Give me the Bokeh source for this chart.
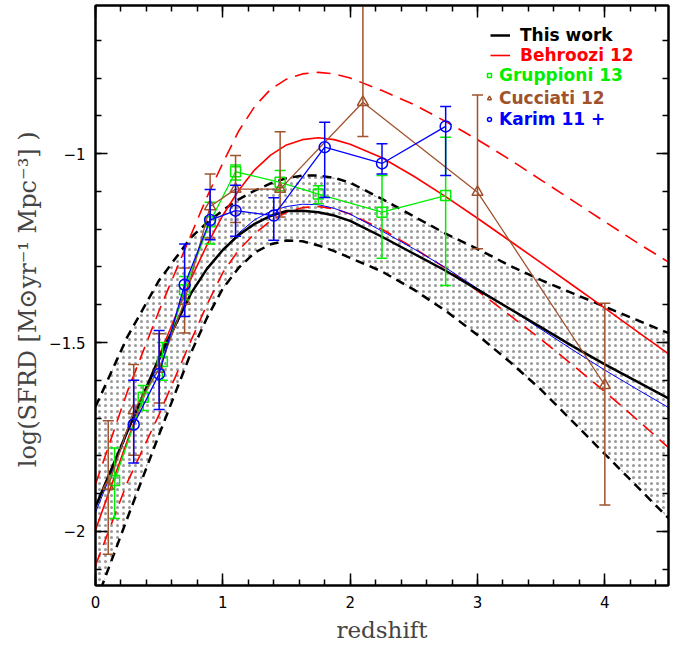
import numpy as np
from bokeh.plotting import figure
from bokeh.models import (Range1d, LinearAxis, FixedTicker, Legend, LegendItem)
from bokeh.embed import file_html
from bokeh.resources import INLINE

# ---------------- data ----------------
z_grid = [0.0, 0.25, 0.5, 0.75, 0.875, 1.0, 1.125, 1.25, 1.375, 1.5, 1.625, 1.75, 1.875,
          2.0, 2.25, 2.5, 2.75, 3.0, 3.25, 3.5, 3.75, 4.0, 4.25, 4.5]

this_work = [-1.935, -1.735, -1.54, -1.37, -1.305, -1.255, -1.215, -1.186, -1.165, -1.152,
             -1.151, -1.155, -1.164, -1.178, -1.22, -1.265, -1.31, -1.36, -1.41, -1.46,
             -1.51, -1.558, -1.603, -1.648]
this_work_hi = [-1.67, -1.485, -1.335, -1.222, -1.183, -1.15, -1.121, -1.098, -1.079, -1.065,
                -1.058, -1.058, -1.064, -1.077, -1.12, -1.166, -1.212, -1.252, -1.296, -1.335,
                -1.37, -1.405, -1.44, -1.475]
this_work_lo = [-2.19, -1.965, -1.743, -1.527, -1.435, -1.357, -1.302, -1.262, -1.24, -1.23,
                -1.232, -1.243, -1.258, -1.276, -1.312, -1.36, -1.416, -1.48, -1.55, -1.625,
                -1.71, -1.795, -1.88, -1.965]

behroozi = [-1.996, -1.76, -1.535, -1.331, -1.242, -1.163, -1.097, -1.043, -1.004, -0.977,
            -0.963, -0.958, -0.963, -0.975, -1.011, -1.06, -1.114, -1.171, -1.23, -1.289,
            -1.349, -1.409, -1.47, -1.53]
behroozi_hi = [-1.875, -1.63, -1.415, -1.215, -1.115, -1.025, -0.94, -0.875, -0.83, -0.803,
               -0.789, -0.785, -0.789, -0.80, -0.833, -0.87, -0.915, -0.963, -1.015, -1.07,
               -1.125, -1.18, -1.235, -1.287]
behroozi_lo = [-2.09, -1.87, -1.69, -1.495, -1.40, -1.315, -1.255, -1.212, -1.178, -1.155,
               -1.143, -1.14, -1.146, -1.16, -1.2, -1.25, -1.303, -1.363, -1.427, -1.492,
               -1.56, -1.63, -1.703, -1.778]

karim_fit = [-1.95, -1.74, -1.55, -1.37, -1.305, -1.255, -1.21, -1.175, -1.153, -1.14,
             -1.134, -1.135, -1.145, -1.16, -1.205, -1.252, -1.302, -1.357, -1.41, -1.465,
             -1.52, -1.573, -1.623, -1.672]

karim_z = [0.3, 0.5, 0.7, 0.9, 1.1, 1.4, 1.8, 2.25, 2.75]
karim_y = [-1.717, -1.583, -1.347, -1.176, -1.151, -1.164, -0.983, -1.026, -0.928]
karim_hi = [-1.60, -1.468, -1.239, -1.095, -1.084, -1.117, -0.917, -0.974, -0.875]
karim_lo = [-1.819, -1.677, -1.431, -1.228, -1.219, -1.229, -1.116, -1.054, -1.058]

grup_z = [0.15, 0.375, 0.525, 0.7, 0.9, 1.1, 1.45, 1.75, 2.25, 2.75]
grup_y = [-1.865, -1.645, -1.55, -1.36, -1.18, -1.048, -1.076, -1.107, -1.155, -1.111]
grup_hi = [-1.779, -1.614, -1.50, -1.325, -1.129, -1.03, -1.045, -1.085, -1.058, -0.957]
grup_lo = [-1.966, -1.68, -1.60, -1.387, -1.239, -1.07, -1.098, -1.133, -1.277, -1.349]

cucc_z = [0.1, 0.3, 0.5, 0.7, 0.9, 1.1, 1.45, 2.1, 3.0, 4.0]
cucc_y = [-1.88, -1.68, -1.57, -1.39, -1.14, -1.094, -1.094, -0.864, -1.102, -1.613]
cucc_hi = [-1.707, -1.558, -1.477, -1.303, -1.054, -1.005, -0.942, -0.50, -0.845, -1.396]
cucc_lo = [-2.06, -1.798, -1.66, -1.475, -1.223, -1.182, -1.168, -0.955, -1.252, -1.93]

x_ticks = [0, 1, 2, 3, 4]
y_ticks = [-2, -1.5, -1]
y_tick_labels = {-2: "\u22122", -1.5: "\u22121.5", -1: "\u22121"}

# ---------------- colours / layout ----------------
RED = "#ff0000"
GREEN = "#00ee00"
BROWN = "#a0522d"
BLUE = "#0000ff"

FRAME_W, FRAME_H = 573, 580
B_LEFT, B_RIGHT, B_TOP, B_BOTTOM = 95, 20, 5, 59

p = figure(frame_width=FRAME_W, frame_height=FRAME_H,
           x_range=Range1d(0, 4.5), y_range=Range1d(-2.143, -0.608),
           output_backend="svg", toolbar_location=None,
           min_border_left=B_LEFT, min_border_right=B_RIGHT,
           min_border_top=B_TOP, min_border_bottom=B_BOTTOM)
p.xgrid.visible = False
p.ygrid.visible = False
p.outline_line_color = "black"
p.outline_line_width = 2
p.background_fill_color = "white"
p.border_fill_color = "white"

x_minor = [round(v, 2) for v in np.arange(0.0, 4.51, 0.2)]
y_minor = [round(v, 2) for v in np.arange(-2.1, -0.6, 0.1)]

def style_axis(ax, labels=True):
    ax.axis_line_width = 2
    ax.axis_line_color = "black"
    ax.major_tick_in = 12
    ax.major_tick_out = 0
    ax.minor_tick_in = 6
    ax.minor_tick_out = 0
    ax.major_tick_line_width = 1.5
    ax.minor_tick_line_width = 1.5
    ax.major_tick_line_color = "black"
    ax.minor_tick_line_color = "black"
    if labels:
        ax.major_label_text_font = "DejaVu Sans"
        ax.major_label_text_font_size = "15px"
        ax.major_label_text_color = "black"
    else:
        ax.major_label_text_font_size = "0px"
        ax.major_label_text_alpha = 0
        ax.major_label_standoff = 0

xb = p.xaxis[0]
xb.ticker = FixedTicker(ticks=x_ticks, minor_ticks=x_minor)
style_axis(xb)
xb.major_label_standoff = 10
xb.axis_label = "redshift"
xb.axis_label_text_font = "DejaVu Serif"
xb.axis_label_text_font_size = "23px"
xb.axis_label_text_font_style = "normal"
xb.axis_label_standoff = 6

yl = p.yaxis[0]
yl.ticker = FixedTicker(ticks=y_ticks, minor_ticks=y_minor)
style_axis(yl)
yl.major_label_overrides = y_tick_labels
yl.major_label_standoff = 10
yl.axis_label = "log(SFRD  [M\u2299yr\u207b\u00b9 Mpc\u207b\u00b3] )"
yl.axis_label_text_font = "DejaVu Serif"
yl.axis_label_text_font_size = "24px"
yl.axis_label_text_font_style = "normal"
yl.axis_label_standoff = 4

xt = LinearAxis(ticker=FixedTicker(ticks=x_ticks, minor_ticks=x_minor))
style_axis(xt, labels=False)
p.add_layout(xt, "above")
yr = LinearAxis(ticker=FixedTicker(ticks=y_ticks, minor_ticks=y_minor))
style_axis(yr, labels=False)
p.add_layout(yr, "right")

# ---------------- band and model curves ----------------
p.varea(x=z_grid, y1=this_work_lo, y2=this_work_hi, fill_alpha=0,
        hatch_pattern="dot", hatch_scale=6, hatch_color="black",
        hatch_weight=0.5, hatch_alpha=0.4)
p.line(z_grid, this_work_hi, line_color="black", line_width=2.5, line_dash="9 6")
p.line(z_grid, this_work_lo, line_color="black", line_width=2.5, line_dash="9 6")

p.line(z_grid, behroozi_hi, line_color=RED, line_width=1.6, line_dash="14 8")
p.line(z_grid, behroozi_lo, line_color=RED, line_width=1.6, line_dash="14 8")
r_beh = p.line(z_grid, behroozi, line_color=RED, line_width=1.6)

p.line(z_grid, karim_fit, line_color=BLUE, line_width=1)
r_this = p.line(z_grid, this_work, line_color="black", line_width=2.5)

# ---------------- data points ----------------
def add_points(z, y, hi, lo, color, marker, size):
    p.segment(x0=z, y0=lo, x1=z, y1=hi, line_color=color, line_width=1.5)
    p.scatter(z, hi, marker="dash", size=11, line_color=color, line_width=1.5)
    p.scatter(z, lo, marker="dash", size=11, line_color=color, line_width=1.5)
    p.line(z, y, line_color=color, line_width=1.3)
    return p.scatter(z, y, marker=marker, size=size, line_color=color, line_width=1.5,
                     fill_alpha=0)

r_grup = add_points(grup_z, grup_y, grup_hi, grup_lo, GREEN, "square", 10)
r_cucc = add_points(cucc_z, cucc_y, cucc_hi, cucc_lo, BROWN, "triangle", 11)
r_karim = add_points(karim_z, karim_y, karim_hi, karim_lo, BLUE, "circle", 11)

# ---------------- legend (one per entry, each with its own colour) ----------------
FRAME_LEFT = B_LEFT
legend_entries = [
    # renderer, label, colour, left edge (px), centre offset below frame top, glyph width, standoff
    (r_this, "This work", "black", 490, 30, 20, 10),
    (r_beh, "Behroozi 12", RED, 490, 50, 20, 10),
    (r_grup, "Gruppioni 13", GREEN, 484, 70, 10, 5),
    (r_cucc, "Cucciati 12", BROWN, 484, 93, 10, 5),
    (r_karim, "Karim 11 +", BLUE, 484, 114, 10, 5),
]
for rend, label, color, left_px, off_top, gw, stand in legend_entries:
    h = 20
    leg = Legend(items=[LegendItem(label=label, renderers=[rend])],
                 location=(left_px - FRAME_LEFT, FRAME_H - off_top - h / 2),
                 padding=0, margin=0, spacing=0,
                 border_line_alpha=0, background_fill_alpha=0,
                 glyph_width=gw, glyph_height=h, label_height=h,
                 label_standoff=stand,
                 label_text_font="DejaVu Sans", label_text_font_size="17px",
                 label_text_font_style="bold",
                 label_text_color=color, label_text_baseline="middle")
    p.add_layout(leg)

open("out.html", "w").write(file_html(p, INLINE))
